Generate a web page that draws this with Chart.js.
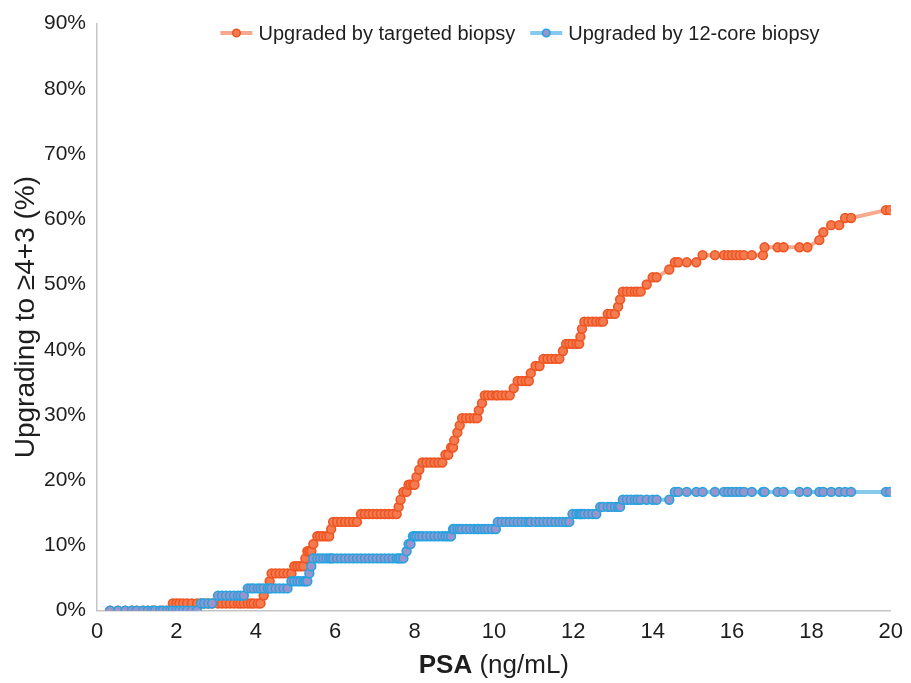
<!DOCTYPE html>
<html>
<head>
<meta charset="utf-8">
<script src="https://cdn.jsdelivr.net/npm/chart.js@4.4.1/dist/chart.umd.min.js"></script>
<style>
  html, body { margin: 0; padding: 0; background: #fff; }
</style>
</head>
<body>
<canvas id="psaChart" width="911" height="683"></canvas>
<script>
// PSA value of each patient (ng/mL), sorted
const psa = [0.33,0.53,0.71,0.88,1.0,1.16,1.28,1.39,1.46,1.59,1.66,1.76,1.84,1.91,2.0,2.08,2.17,2.27,2.39,2.52,
  2.62,2.7,2.8,2.9,3.05,3.15,3.25,3.35,3.45,3.55,3.62,3.7,3.8,3.88,3.95,4.05,4.12,4.2,4.3,4.35,
  4.4,4.5,4.6,4.7,4.8,4.9,4.97,5.05,5.12,5.2,5.25,5.3,5.35,5.4,5.45,5.55,5.62,5.7,5.78,5.85,
  5.9,5.95,6.05,6.15,6.25,6.35,6.45,6.55,6.65,6.75,6.85,6.95,7.05,7.15,7.25,7.35,7.45,7.55,7.6,7.65,
  7.72,7.8,7.85,7.9,7.96,8.0,8.05,8.12,8.2,8.3,8.4,8.5,8.6,8.7,8.78,8.85,8.92,8.97,9.0,9.08,
  9.14,9.2,9.3,9.4,9.5,9.58,9.62,9.7,9.77,9.85,9.95,10.05,10.1,10.2,10.3,10.4,10.5,10.6,10.7,10.8,
  10.88,10.93,11.05,11.15,11.25,11.35,11.45,11.55,11.65,11.74,11.82,11.9,11.98,12.08,12.15,12.18,12.22,12.28,12.38,12.48,
  12.58,12.68,12.75,12.87,12.95,13.05,13.13,13.18,13.25,13.35,13.45,13.55,13.62,13.7,13.85,14.0,14.1,14.42,14.56,14.65,
  14.86,15.1,15.26,15.57,15.8,15.9,16.0,16.1,16.2,16.3,16.5,16.78,16.82,17.15,17.3,17.7,17.9,18.2,18.3,18.5,
  18.7,18.85,19.0,19.88,19.98];

// cumulative % upgraded by targeted biopsy
const targetedPct = [0,0,0,0,0,0,0,0,0,0,0,0,0,1.1,1.1,1.1,1.1,1.1,1.1,1.1,
  1.1,1.1,1.1,1.1,1.1,1.1,1.1,1.1,1.1,1.1,1.1,1.1,1.1,1.1,1.1,1.1,1.1,2.3,3.4,4.5,
  5.7,5.7,5.7,5.7,5.7,5.7,6.8,6.8,6.8,6.8,8.0,9.1,9.1,9.1,10.2,11.4,11.4,11.4,11.4,11.4,
  12.5,13.6,13.6,13.6,13.6,13.6,13.6,13.6,14.8,14.8,14.8,14.8,14.8,14.8,14.8,14.8,14.8,14.8,15.9,17.0,
  18.2,18.2,19.3,19.3,19.3,19.3,20.5,21.6,22.7,22.7,22.7,22.7,22.7,22.7,23.9,23.9,25.0,25.0,26.1,27.3,
  28.4,29.5,29.5,29.5,29.5,29.5,30.7,31.8,33.0,33.0,33.0,33.0,33.0,33.0,33.0,33.0,34.1,35.2,35.2,35.2,
  35.2,36.4,37.5,37.5,38.6,38.6,38.6,38.6,38.6,39.8,40.9,40.9,40.9,40.9,40.9,42.0,43.2,44.3,44.3,44.3,
  44.3,44.3,44.3,45.5,45.5,45.5,46.6,47.7,48.9,48.9,48.9,48.9,48.9,48.9,50.0,51.1,51.1,52.3,53.4,53.4,
  53.4,53.4,54.5,54.5,54.5,54.5,54.5,54.5,54.5,54.5,54.5,54.5,55.7,55.7,55.7,55.7,55.7,56.8,58.0,59.1,
  59.1,60.2,60.2,61.4,61.4];

// cumulative % upgraded by 12-core biopsy
const coreTwelvePct = [0,0,0,0,0,0,0,0,0,0,0,0,0,0,0,0,0,0,0,0,
  1.1,1.1,1.1,1.1,2.3,2.3,2.3,2.3,2.3,2.3,2.3,2.3,3.4,3.4,3.4,3.4,3.4,3.4,3.4,3.4,
  3.4,3.4,3.4,3.4,3.4,4.5,4.5,4.5,4.5,4.5,4.5,4.5,5.7,6.8,8.0,8.0,8.0,8.0,8.0,8.0,
  8.0,8.0,8.0,8.0,8.0,8.0,8.0,8.0,8.0,8.0,8.0,8.0,8.0,8.0,8.0,8.0,8.0,8.0,8.0,8.0,
  8.0,9.1,10.2,10.2,11.4,11.4,11.4,11.4,11.4,11.4,11.4,11.4,11.4,11.4,11.4,11.4,11.4,12.5,12.5,12.5,
  12.5,12.5,12.5,12.5,12.5,12.5,12.5,12.5,12.5,12.5,12.5,12.5,13.6,13.6,13.6,13.6,13.6,13.6,13.6,13.6,
  13.6,13.6,13.6,13.6,13.6,13.6,13.6,13.6,13.6,13.6,13.6,13.6,14.8,14.8,14.8,14.8,14.8,14.8,14.8,14.8,
  14.8,15.9,15.9,15.9,15.9,15.9,15.9,15.9,17.0,17.0,17.0,17.0,17.0,17.0,17.0,17.0,17.0,17.0,18.2,18.2,
  18.2,18.2,18.2,18.2,18.2,18.2,18.2,18.2,18.2,18.2,18.2,18.2,18.2,18.2,18.2,18.2,18.2,18.2,18.2,18.2,
  18.2,18.2,18.2,18.2,18.2];

const seriesNames = ['Upgraded by targeted biopsy', 'Upgraded by 12-core biopsy'];

const FONT = '"Liberation Sans", Arial, Helvetica, sans-serif';
const TEXT = '#1e1e1e';

const orange = { line: 'rgba(245,160,130,0.9)', fill: '#f47a50', border: '#ee5522' };
const blue = { line: 'rgba(120,195,235,0.9)', fill: '#9a94cc', border: '#25a3e0' };

const toPoints = (vals) => psa.map((x, i) => ({ x: x, y: vals[i] }));

// legend sits inside the plot near the top, line + dot icons
const legendPlugin = {
  id: 'insideLegend',
  afterDraw(chart) {
    const { ctx } = chart;
    const items = [[seriesNames[0], orange], [seriesNames[1], blue]];
    const iconW = 32, gap = 6, between = 15;
    ctx.save();
    ctx.font = '20px ' + FONT;
    const widths = items.map(it => ctx.measureText(it[0]).width);
    const total = widths.reduce((a, w) => a + iconW + gap + w, 0) + between;
    let x = 520 - total / 2;
    const y = 33;
    items.forEach((it, i) => {
      const c = it[1];
      ctx.strokeStyle = c.line; ctx.lineWidth = 4;
      ctx.beginPath(); ctx.moveTo(x, y); ctx.lineTo(x + iconW, y); ctx.stroke();
      ctx.beginPath(); ctx.arc(x + iconW / 2, y, 3.8, 0, Math.PI * 2);
      ctx.fillStyle = c.fill; ctx.fill();
      ctx.strokeStyle = c.border; ctx.lineWidth = 1.5; ctx.stroke();
      ctx.fillStyle = TEXT;
      ctx.textBaseline = 'middle';
      ctx.fillText(it[0], x + iconW + gap, y + 1);
      x += iconW + gap + widths[i] + between;
    });
    ctx.restore();
  }
};

// bold "PSA" + normal " (ng/mL)" under the x axis
const xTitlePlugin = {
  id: 'xTitle',
  afterDraw(chart) {
    const { ctx, chartArea } = chart;
    const xs = chart.scales.x;
    ctx.save();
    ctx.fillStyle = TEXT;
    ctx.textBaseline = 'middle';
    ctx.font = 'bold 26px ' + FONT;
    const w1 = ctx.measureText('PSA').width;
    ctx.font = '26px ' + FONT;
    const w2 = ctx.measureText(' (ng/mL)').width;
    let x = (chartArea.left + chartArea.right) / 2 - (w1 + w2) / 2;
    const y = xs.bottom + 13;
    ctx.font = 'bold 26px ' + FONT;
    ctx.fillText('PSA', x, y);
    ctx.font = '26px ' + FONT;
    ctx.fillText(' (ng/mL)', x + w1, y);
    ctx.restore();
  }
};

const ctx = document.getElementById('psaChart').getContext('2d');

new Chart(ctx, {
  type: 'line',
  data: {
    datasets: [
      {
        label: seriesNames[1],
        data: toPoints(coreTwelvePct),
        borderColor: blue.line,
        borderWidth: 4,
        pointRadius: 4.4,
        pointBackgroundColor: blue.fill,
        pointBorderColor: blue.border,
        pointBorderWidth: 1.6,
        tension: 0,
        fill: false
      },
      {
        label: seriesNames[0],
        data: toPoints(targetedPct),
        borderColor: orange.line,
        borderWidth: 4,
        pointRadius: 4.4,
        pointBackgroundColor: orange.fill,
        pointBorderColor: orange.border,
        pointBorderWidth: 1.6,
        tension: 0,
        fill: false
      }
    ]
  },
  options: {
    responsive: false,
    animation: false,
    layout: { padding: { top: 5, right: 14, left: 0, bottom: 30 } },
    plugins: {
      tooltip: { enabled: false },
      legend: { display: false }
    },
    scales: {
      x: {
        type: 'linear',
        min: 0,
        max: 20,
        grid: { display: false, drawTicks: false },
        border: { display: true, color: '#c4c4c4', width: 1.5 },
        ticks: {
          stepSize: 2,
          padding: 8,
          color: TEXT,
          font: { family: FONT, size: 22 }
        }
      },
      y: {
        min: 0,
        max: 90,
        afterFit: (s) => { s.width = 97; },
        grid: { display: false, drawTicks: false },
        border: { display: true, color: '#c4c4c4', width: 1.5 },
        ticks: {
          stepSize: 10,
          padding: 11,
          color: TEXT,
          font: { family: FONT, size: 21 },
          callback: (v) => v + '%'
        },
        title: {
          display: true,
          text: 'Upgrading to ≥4+3 (%)',
          color: TEXT,
          font: { family: FONT, size: 28 },
          padding: { top: 9, bottom: 2 }
        }
      }
    }
  },
  plugins: [legendPlugin, xTitlePlugin]
});
</script>
</body>
</html>
